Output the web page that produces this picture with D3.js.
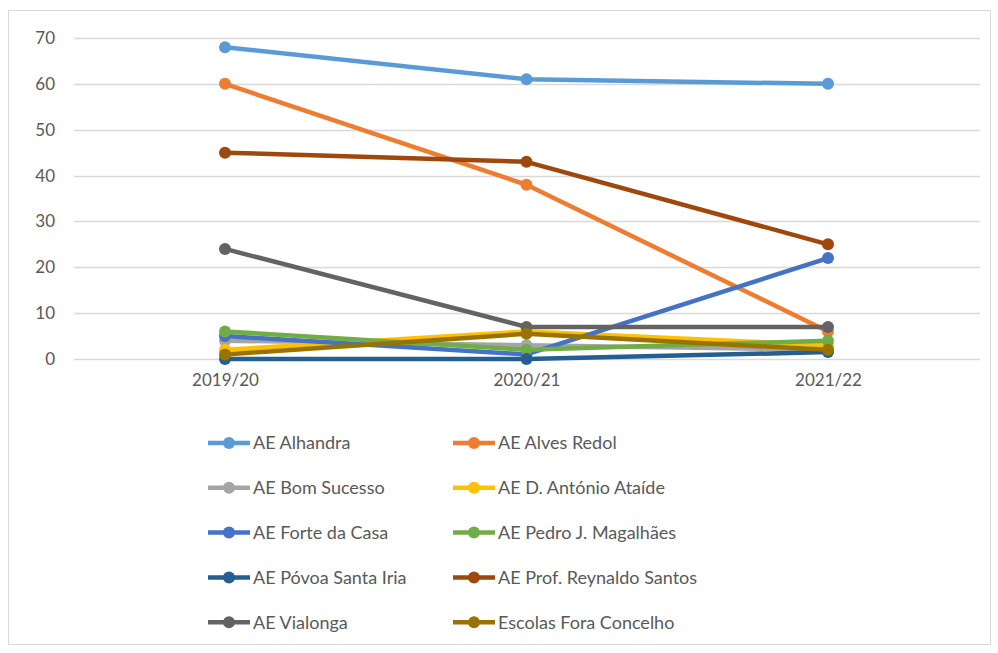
<!DOCTYPE html>
<html>
<head>
<meta charset="utf-8">
<script src="https://d3js.org/d3.v7.min.js"></script>
<style>
  body { margin: 0; background: #fff; }
  text { font-family: Lato, "Open Sans", sans-serif; fill: #595959; }
</style>
</head>
<body>
<script>
// chart data
var years = ["2019/20", "2020/21", "2021/22"];
var names = ["AE Alhandra", "AE Alves Redol", "AE Bom Sucesso", "AE D. António Ataíde",
             "AE Forte da Casa", "AE Pedro J. Magalhães", "AE Póvoa Santa Iria",
             "AE Prof. Reynaldo Santos", "AE Vialonga", "Escolas Fora Concelho"];
var alhandra   = [68, 61, 60];
var alvesRedol = [60, 38, 6];
var bomSucesso = [4, 3, 2];
var dAntonio   = [2, 6, 3];
var forteCasa  = [5, 1, 22];
var pedroMag   = [6, 2, 4];
var povoa      = [0, 0, 1.5];
var reynaldo   = [45, 43, 25];
var vialonga   = [24, 7, 7];
var foraConc   = [1, 5.5, 2];
var yTicks = [0, 10, 20, 30, 40, 50, 60, 70];
var colors = ["#5b9bd5", "#ed7d31", "#a5a5a5", "#ffc000", "#4472c4",
              "#70ad47", "#255e91", "#9e480e", "#636363", "#997300"];

var seriesValues = [alhandra, alvesRedol, bomSucesso, dAntonio, forteCasa,
                    pedroMag, povoa, reynaldo, vialonga, foraConc];
var series = names.map(function(n, i) {
    return { name: n, color: colors[i], values: seriesValues[i] };
});

var W = 998, H = 653;
var svg = d3.select("body").append("svg")
    .attr("width", W).attr("height", H);

// chart border
svg.append("rect")
    .attr("x", 8.5).attr("y", 10.5)
    .attr("width", 982).attr("height", 634)
    .attr("fill", "#fff").attr("stroke", "#d9d9d9");

var x = d3.scalePoint()
    .domain(years)
    .range([225, 828]);

var y = d3.scaleLinear()
    .domain([0, 70])
    .range([359, 38]);

// gridlines
svg.append("g")
    .selectAll("line")
    .data(yTicks)
    .enter().append("line")
    .attr("x1", 74).attr("x2", 980)
    .attr("y1", function(d) { return Math.round(y(d)) + 0.5; })
    .attr("y2", function(d) { return Math.round(y(d)) + 0.5; })
    .attr("stroke", "#d9d9d9").attr("stroke-width", 1.3);

// y axis labels
var yAxis = svg.append("g")
    .attr("transform", "translate(55,0)")
    .call(d3.axisLeft(y).tickValues(yTicks).tickSize(0).tickPadding(0));
yAxis.select(".domain").remove();
yAxis.selectAll("text")
    .style("font-size", "17px")
    .style("font-family", "Lato, sans-serif")
    .attr("fill", "#595959");

// x axis labels
var xAxis = svg.append("g")
    .attr("transform", "translate(0,374)")
    .call(d3.axisBottom(x).tickSize(0).tickPadding(0));
xAxis.select(".domain").remove();
xAxis.selectAll("text")
    .attr("dy", "0.71em")
    .style("font-size", "17px")
    .style("font-family", "Lato, sans-serif")
    .attr("fill", "#595959");

var line = d3.line()
    .x(function(d, i) { return x(years[i]); })
    .y(function(d) { return y(d); });

// lines + markers
var g = svg.append("g")
    .selectAll("g")
    .data(series)
    .enter().append("g");

g.append("path")
    .attr("d", function(d) { return line(d.values); })
    .attr("fill", "none")
    .attr("stroke", function(d) { return d.color; })
    .attr("stroke-width", 4.5)
    .attr("stroke-linejoin", "round")
    .attr("stroke-linecap", "round");

g.selectAll("circle")
    .data(function(d) { return d.values.map(function(v, i) { return { v: v, i: i, c: d.color }; }); })
    .enter().append("circle")
    .attr("cx", function(d) { return x(years[d.i]); })
    .attr("cy", function(d) { return y(d.v); })
    .attr("r", 6)
    .attr("fill", function(d) { return d.c; });

// legend
var legend = svg.append("g")
    .selectAll("g")
    .data(series)
    .enter().append("g")
    .attr("transform", function(d, i) {
        var col = i % 2, row = Math.floor(i / 2);
        return "translate(" + (208 + col * 245) + "," + (443 + row * 44.8) + ")";
    });

legend.append("line")
    .attr("x1", 0).attr("x2", 42)
    .attr("stroke", function(d) { return d.color; })
    .attr("stroke-width", 4.5);

legend.append("circle")
    .attr("cx", 21).attr("r", 6)
    .attr("fill", function(d) { return d.color; });

legend.append("text")
    .attr("x", 45).attr("dy", "0.35em")
    .style("font-size", "18px")
    .text(function(d) { return d.name; });
</script>
</body>
</html>
